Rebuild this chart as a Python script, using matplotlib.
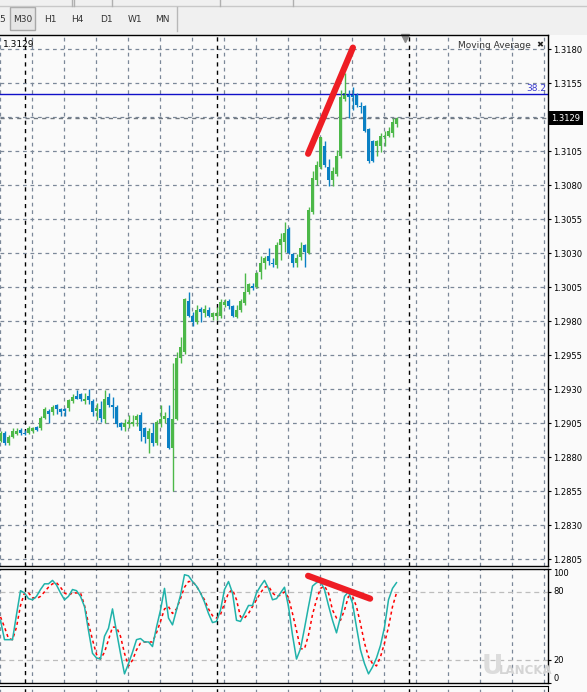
import matplotlib
matplotlib.use("Agg")
import matplotlib.pyplot as plt
from matplotlib.transforms import blended_transform_factory
from matplotlib.patches import Rectangle
import numpy as np

# EURUSD-like M30 candles (oldest -> newest)
opens = [
    1.2892, 1.2898, 1.2890, 1.2895, 1.2897, 1.2900, 1.2898, 1.2898, 1.2899, 1.2902,
    1.2901, 1.2909, 1.2914, 1.2913, 1.2918, 1.2915, 1.2915, 1.2916, 1.2921, 1.2925,
    1.2926, 1.2921, 1.2925, 1.2921, 1.2914, 1.2915, 1.2908, 1.2924, 1.2918, 1.2917,
    1.2905, 1.2902, 1.2904, 1.2904, 1.2907, 1.2911, 1.2901, 1.2893, 1.2898, 1.2890,
    1.2905, 1.2908, 1.2909, 1.2887, 1.2908, 1.2953, 1.2957, 1.2995, 1.2984, 1.2979,
    1.2989, 1.2986, 1.2988, 1.2983, 1.2984, 1.2984, 1.2992, 1.2995, 1.2991, 1.2983,
    1.2988, 1.2993, 1.3001, 1.3006, 1.3005, 1.3016, 1.3023, 1.3028, 1.3023, 1.3021,
    1.3036, 1.3038, 1.3048, 1.3029, 1.3023, 1.3027, 1.3036, 1.3030, 1.3060, 1.3084,
    1.3093, 1.3109, 1.3093, 1.3084, 1.3088, 1.3101, 1.3143, 1.3147, 1.3146, 1.3147,
    1.3138, 1.3138, 1.3121, 1.3112, 1.3109, 1.3109, 1.3115, 1.3116, 1.3118, 1.3125,
]
highs = [
    1.2899, 1.2899, 1.2896, 1.2901, 1.2901, 1.2901, 1.2900, 1.2903, 1.2902, 1.2903,
    1.2910, 1.2917, 1.2915, 1.2918, 1.2919, 1.2916, 1.2916, 1.2923, 1.2926, 1.2929,
    1.2927, 1.2927, 1.2930, 1.2923, 1.2920, 1.2921, 1.2929, 1.2927, 1.2924, 1.2918,
    1.2906, 1.2908, 1.2911, 1.2911, 1.2912, 1.2913, 1.2902, 1.2901, 1.2905, 1.2907,
    1.2918, 1.2913, 1.2918, 1.2949, 1.2957, 1.2968, 1.2997, 1.3001, 1.2987, 1.2992,
    1.2990, 1.2992, 1.2990, 1.2987, 1.2990, 1.2996, 1.2996, 1.2996, 1.2992, 1.2992,
    1.2996, 1.3015, 1.3008, 1.3008, 1.3016, 1.3028, 1.3028, 1.3034, 1.3026, 1.3038,
    1.3045, 1.3053, 1.3049, 1.3030, 1.3029, 1.3038, 1.3037, 1.3064, 1.3090, 1.3098,
    1.3115, 1.3112, 1.3099, 1.3093, 1.3106, 1.3150, 1.3162, 1.3150, 1.3152, 1.3148,
    1.3141, 1.3139, 1.3122, 1.3113, 1.3113, 1.3118, 1.3120, 1.3123, 1.3129, 1.3130,
]
lows = [
    1.2891, 1.2889, 1.2889, 1.2894, 1.2896, 1.2896, 1.2896, 1.2897, 1.2898, 1.2899,
    1.2900, 1.2908, 1.2905, 1.2911, 1.2912, 1.2910, 1.2910, 1.2914, 1.2920, 1.2923,
    1.2921, 1.2919, 1.2919, 1.2910, 1.2907, 1.2906, 1.2905, 1.2917, 1.2909, 1.2902,
    1.2900, 1.2899, 1.2901, 1.2903, 1.2903, 1.2892, 1.2890, 1.2883, 1.2888, 1.2889,
    1.2902, 1.2905, 1.2886, 1.2855, 1.2907, 1.2949, 1.2956, 1.2983, 1.2976, 1.2978,
    1.2979, 1.2983, 1.2983, 1.2981, 1.2981, 1.2982, 1.2990, 1.2989, 1.2983, 1.2982,
    1.2987, 1.2992, 1.3000, 1.3003, 1.3004, 1.3011, 1.3018, 1.3021, 1.3020, 1.3019,
    1.3025, 1.3031, 1.3029, 1.3020, 1.3020, 1.3025, 1.3020, 1.3029, 1.3059, 1.3080,
    1.3092, 1.3093, 1.3079, 1.3079, 1.3087, 1.3100, 1.3142, 1.3129, 1.3135, 1.3137,
    1.3133, 1.3119, 1.3096, 1.3097, 1.3101, 1.3104, 1.3109, 1.3115, 1.3115, 1.3123,
]
closes = [
    1.2898, 1.2890, 1.2895, 1.2899, 1.2899, 1.2898, 1.2897, 1.2901, 1.2901, 1.2900,
    1.2909, 1.2915, 1.2912, 1.2917, 1.2915, 1.2913, 1.2914, 1.2922, 1.2924, 1.2923,
    1.2923, 1.2923, 1.2922, 1.2913, 1.2916, 1.2909, 1.2923, 1.2918, 1.2917, 1.2904,
    1.2902, 1.2905, 1.2906, 1.2906, 1.2910, 1.2899, 1.2895, 1.2899, 1.2890, 1.2906,
    1.2908, 1.2910, 1.2887, 1.2908, 1.2953, 1.2961, 1.2996, 1.2984, 1.2979, 1.2988,
    1.2987, 1.2989, 1.2984, 1.2986, 1.2986, 1.2994, 1.2994, 1.2991, 1.2984, 1.2988,
    1.2995, 1.3001, 1.3007, 1.3004, 1.3015, 1.3023, 1.3026, 1.3024, 1.3022, 1.3036,
    1.3040, 1.3045, 1.3030, 1.3023, 1.3026, 1.3034, 1.3031, 1.3062, 1.3085, 1.3095,
    1.3115, 1.3095, 1.3084, 1.3090, 1.3101, 1.3145, 1.3148, 1.3145, 1.3145, 1.3139,
    1.3137, 1.3120, 1.3098, 1.3098, 1.3112, 1.3116, 1.3116, 1.3120, 1.3126, 1.3129,
]

# Stochastic oscillator (%K main, %D signal)
stoch_main = [
    55, 38, 38, 38, 60, 81, 79, 74, 73, 76,
    82, 87, 87, 90, 86, 79, 73, 76, 82, 81,
    76, 67, 46, 26, 22, 21, 41, 48, 65, 45,
    26, 8, 17, 27, 38, 39, 36, 36, 32, 49,
    64, 83, 57, 51, 64, 77, 95, 94, 89, 85,
    79, 71, 61, 53, 54, 64, 82, 89, 79, 55,
    54, 61, 68, 68, 79, 85, 90, 83, 73, 74,
    79, 84, 67, 42, 21, 30, 48, 67, 85, 88,
    89, 82, 68, 55, 44, 58, 76, 80, 70, 49,
    29, 17, 8, 14, 22, 33, 49, 73, 83, 88,
]
stoch_signal = [
    58, 49, 39, 38, 49, 68, 79, 79, 75, 74,
    76, 80, 84, 87, 88, 84, 79, 77, 79, 79,
    79, 68, 52, 38, 25, 21, 27, 38, 49, 49,
    41, 26, 15, 20, 29, 35, 36, 36, 36, 44,
    54, 65, 67, 61, 65, 74, 84, 89, 89, 85,
    79, 73, 65, 59, 57, 60, 70, 79, 82, 73,
    58, 57, 61, 67, 73, 79, 84, 85, 79, 76,
    77, 80, 75, 61, 46, 30, 30, 42, 60, 73,
    83, 85, 79, 64, 57, 55, 64, 76, 76, 67,
    52, 35, 23, 17, 15, 23, 35, 49, 67, 79,
]

price_levels = [1.2805, 1.2830, 1.2855, 1.2880, 1.2905, 1.2930, 1.2955, 1.2980,
                1.3005, 1.3030, 1.3055, 1.3080, 1.3105, 1.3130, 1.3155, 1.3180]
bid_price = 1.3129
fib_price = 1.3147
fib_label = "38.2"
day_breaks = [6, 54, 102]
trend_price_x = [76.9, 88.1]
trend_price_y = [1.3103, 1.3181]
trend_stoch_x = [76.9, 92.4]
trend_stoch_y = [94, 74]
timeframes = ["5", "M30", "H1", "H4", "D1", "W1", "MN"]

W, H = 587, 692
BG = "#fafafa"
GRID = "#7b8899"
BULL = "#4cb848"
BEAR = "#0a80c4"

fig = plt.figure(figsize=(W / 100, H / 100), dpi=100, facecolor=BG)


def px_axes(x0, y0, x1, y1):
    return fig.add_axes([x0 / W, 1 - y1 / H, (x1 - x0) / W, (y1 - y0) / H])


bars = np.arange(len(opens))
o, h, l, c = map(np.array, (opens, highs, lows, closes))
x_lo, x_hi = -0.125, 136.875
grid_x = np.arange(x_lo, x_hi, 8)
dash = (0, (3, 3))

# ---- toolbar ----
tb = px_axes(0, 0, W, 35)
tb.set_xlim(0, W)
tb.set_ylim(35, 0)
tb.set_facecolor("#f0f0f0")
tb.set_xticks([])
tb.set_yticks([])
for s in tb.spines.values():
    s.set_visible(False)
tb.axhline(6, color="#c8c8c8", lw=1)
for xv in [72, 74, 112, 220, 293]:
    tb.plot([xv, xv], [0, 6], color="#b0b0b0", lw=1)
tb.add_patch(Rectangle((10, 7), 25, 23, facecolor="#e6e6e6", edgecolor="#a8a8a8", lw=1))
tb.plot([177, 177], [7, 31], color="#b8b8b8", lw=1)
tab_x = [2, 22.5, 50, 77.5, 106, 135, 162]
for tx, name in zip(tab_x, timeframes):
    tb.text(tx, 19, name, ha="center", va="center", fontsize=6.5, color="#333333")

# ---- main price pane ----
ax = px_axes(0, 35, 548, 566)
ax.set_facecolor(BG)
ax.set_xlim(x_lo, x_hi)
ax.set_ylim(1.27999, 1.31903)
ax.set_axisbelow(True)
ax.set_xticks(grid_x)
ax.tick_params(axis="x", length=0, labelbottom=False)
ax.yaxis.tick_right()
ax.set_yticks(price_levels, labels=["" if abs(p - 1.3130) < 1e-6 else f"{p:.4f}" for p in price_levels])
ax.tick_params(axis="y", length=2.5, width=0.8, pad=1.5, labelsize=6, colors="black")
ax.grid(True, color=GRID, linestyle=dash, linewidth=0.9)
ax.spines["left"].set_visible(False)
for s in ["top", "right", "bottom"]:
    ax.spines[s].set_color("black")
    ax.spines[s].set_linewidth(1)

for d in day_breaks:
    ax.axvline(d, color="black", linestyle=dash, linewidth=1)

ax.axhline(bid_price, color="#707880", linestyle=dash, linewidth=1)
ax.axhline(fib_price, color="#1010c8", linewidth=1)
ax.text(0.997, fib_price + 0.00003, fib_label, transform=blended_transform_factory(ax.transAxes, ax.transData),
        ha="right", va="bottom", fontsize=6.5, color="#3a3ad0")

cols = np.where(c >= o, BULL, BEAR)
ax.vlines(bars, l, h, colors=cols, linewidth=1)
body = np.maximum(np.abs(c - o), 0.00004)
ax.bar(bars, body, bottom=np.minimum(o, c), width=0.8, color=cols, linewidth=0)

ax.plot(trend_price_x, trend_price_y, color="#ee1d24", linewidth=4.5, solid_capstyle="round")

ax.text(3 / 548, 0.983, f"{bid_price:.4f}", transform=ax.transAxes, fontsize=6.5, va="center", ha="left")
ax.text(531 / 548, 0.981, "Moving Average", transform=ax.transAxes, fontsize=6.5, va="center", ha="right",
        color="#333333")
ax.text(540 / 548, 0.981, "\u2716", transform=ax.transAxes, fontsize=6, va="center", ha="center", color="#222222")
ax.plot([405 / 548], [0.995], marker="v", markersize=6, color="#8a8a8a", transform=ax.transAxes, clip_on=False)

ax.text(1.0 + 3 / 548, bid_price, f"{bid_price:.4f}", transform=blended_transform_factory(ax.transAxes, ax.transData),
        fontsize=6, color="white", va="center", ha="left", zorder=10, clip_on=False,
        bbox=dict(facecolor="black", edgecolor="none", pad=1.8))

# ---- stochastic pane ----
sx = px_axes(0, 569, 548, 683)
sx.set_facecolor(BG)
sx.set_xlim(x_lo, x_hi)
sx.set_ylim(0, 100)
sx.set_axisbelow(True)
sx.set_xticks(grid_x)
sx.tick_params(axis="x", length=0, labelbottom=False)
sx.grid(True, axis="x", color=GRID, linestyle=dash, linewidth=0.9)
sx.yaxis.tick_right()
sx.set_yticks([0, 20, 80, 100], labels=["0", "20", "80", "100"])
sx.tick_params(axis="y", length=2.5, width=0.8, pad=1.5, labelsize=6, colors="black")
for tick, va in zip(sx.yaxis.get_major_ticks(), ["bottom", "center", "center", "top"]):
    tick.label2.set_va(va)
sx.spines["left"].set_visible(False)
for s in ["top", "right", "bottom"]:
    sx.spines[s].set_color("black")
    sx.spines[s].set_linewidth(1)
sx.axhline(80, color="#bdbdbd", linestyle=(0, (4, 3)), linewidth=0.9)
sx.axhline(20, color="#bdbdbd", linestyle=(0, (4, 3)), linewidth=0.9)
for d in day_breaks:
    sx.axvline(d, color="black", linestyle=dash, linewidth=1)

sx.plot(bars, stoch_signal, color="red", linestyle=(0, (2, 2)), linewidth=1.1)
sx.plot(bars, stoch_main, color="#20b2aa", linewidth=1.1)
sx.plot(trend_stoch_x, trend_stoch_y, color="#ee1d24", linewidth=4.5, solid_capstyle="round")

# ---- next pane, cut off by the screenshot ----
bx = px_axes(0, 686, 548, 720)
bx.set_facecolor(BG)
bx.set_xlim(x_lo, x_hi)
bx.set_xticks(grid_x)
bx.set_yticks([])
bx.tick_params(axis="x", length=0, labelbottom=False)
bx.grid(True, axis="x", color=GRID, linestyle=dash, linewidth=0.9)
bx.spines["left"].set_visible(False)
bx.spines["bottom"].set_visible(False)
for d in day_breaks:
    bx.axvline(d, color="black", linestyle=dash, linewidth=1)

# watermark
fig.text(492 / W, 1 - 667 / H, "U", fontsize=19, color="#dcdcdc", ha="center", va="center", fontweight="bold")
fig.text(526 / W, 1 - 671 / H, "LANCKA", fontsize=8.5, color="#d4d4d4", ha="center", va="center", fontweight="bold")

fig.savefig("out.png", dpi=100, facecolor=BG)
